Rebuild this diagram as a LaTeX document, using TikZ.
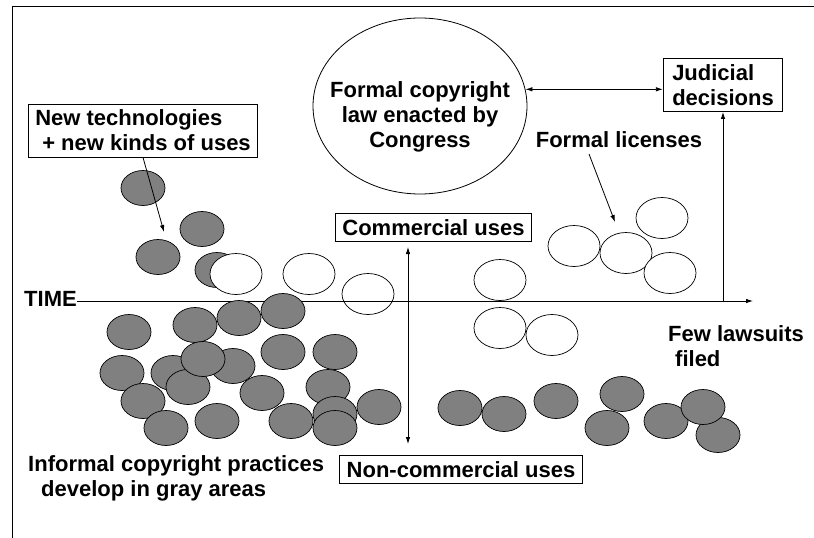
\documentclass[tikz,border=0pt]{standalone}
\usepackage{fontspec}
\setmainfont{Liberation Sans}
\newfontfamily\labfont{Liberation Sans}
\usetikzlibrary{arrows.meta,shapes.geometric}
\definecolor{blobgray}{RGB}{128,128,128}
\tikzset{
  lbl/.style={font=\labfont\bfseries\fontsize{22}{25}\selectfont, inner sep=0pt, align=left},
  boxed/.style={lbl, draw, line width=0.8pt, inner xsep=7pt, inner ysep=6pt},
  gblob/.style={draw, fill=blobgray, line width=0.7pt},
  wblob/.style={draw, fill=white, line width=0.7pt},
  tip/.style={-{Latex[length=7pt,width=4.5pt]}},
  arr/.style={line width=0.8pt, tip},
  darr/.style={line width=0.8pt, {Latex[length=7pt,width=4.5pt]}-{Latex[length=7pt,width=4.5pt]}},
}
\newcommand{\gb}[2]{\draw[gblob] (#1,#2) ellipse [x radius=22pt, y radius=17.5pt];}
\newcommand{\wb}[2]{\draw[wblob] (#1,#2) ellipse [x radius=26pt, y radius=20.5pt];}
\begin{document}
\begin{tikzpicture}[x=1pt,y=-1pt]
\useasboundingbox (0,0) rectangle (814,538);
% frame
\draw[line width=0.9pt] (814,6) -- (12,6) -- (12,538);
% upper gray blobs
\gb{143}{188}
\gb{202}{229}
\gb{158}{257}
\gb{217}{270}
% upper white blobs
\wb{236}{274}
\wb{309}{274}
\wb{368}{294}
\wb{574}{246}
\wb{626}{253}
\wb{662}{218}
\wb{670}{273}
\wb{500}{280}
% axis
\node[lbl, anchor=base east] (time) at (77,306) {TIME};
\coordinate (axend) at (753,301);
\draw[arr] (time.east |- axend) -- (axend);
% lower white blobs
\wb{500}{328}
\wb{552}{335}
% lower-left gray blobs
\gb{129}{332}
\gb{195}{325}
\gb{239}{318}
\gb{283}{311}
\gb{283}{352}
\gb{335}{352}
\gb{122}{373}
\gb{173}{373}
\gb{233}{366}
\gb{188}{387}
\gb{203}{359}
\gb{143}{401}
\gb{262}{393}
\gb{328}{387}
\gb{166}{428}
\gb{217}{421}
\gb{291}{421}
\gb{379}{407}
\gb{335}{414}
\gb{335}{428}
% lower-right gray blobs
\gb{460}{408}
\gb{504}{414}
\gb{556}{401}
\gb{622}{394}
\gb{607}{428}
\gb{718}{435}
\gb{666}{421}
\gb{703}{407}
% ellipse: formal law
\node[draw, ellipse, line width=0.8pt, minimum width=214pt, minimum height=176pt] (law) at (420,106) {};
\node[lbl, align=center] (lawtxt) at (420,117) {Formal copyright\\ law enacted by\\ Congress};
% judicial decisions
\node[boxed, inner xsep=9pt] (jud) at (723,85) {Judicial\\decisions};
\draw[darr] (law.9) -- (law.9 -| jud.west);
\coordinate (jfoot) at (723,301);
\draw[arr] (jfoot) -- (jud.south);
% formal licenses
\node[lbl] (lic) at (619,140) {Formal licenses};
\coordinate (licA) at (589,154);
\coordinate (licB) at (615,222);
\draw[arr] (licA) -- (licB);
% new technologies
\node[boxed] (nt) at (143,130.5) {New technologies\\\hspace{7pt}+ new kinds of uses};
\coordinate (ntB) at (164,232);
\draw[arr] (nt.south) -- (ntB);
% commercial / non-commercial
\node[boxed] (com) at (433.5,227.5) {Commercial uses};
\node[boxed] (non) at (461,469.5) {Non-commercial uses};
\coordinate (vtop) at (408,247);
\coordinate (vbot) at (408,444);
\draw[darr] (vtop) -- (vbot);
% few lawsuits
\node[lbl, anchor=north west] (few) at (668,325) {Few lawsuits\\\hspace{7pt}filed};
% informal
\node[lbl, anchor=north west] (inf) at (28,455) {Informal copyright practices\\\hspace{13pt}develop in gray areas};
\end{tikzpicture}
\end{document}
